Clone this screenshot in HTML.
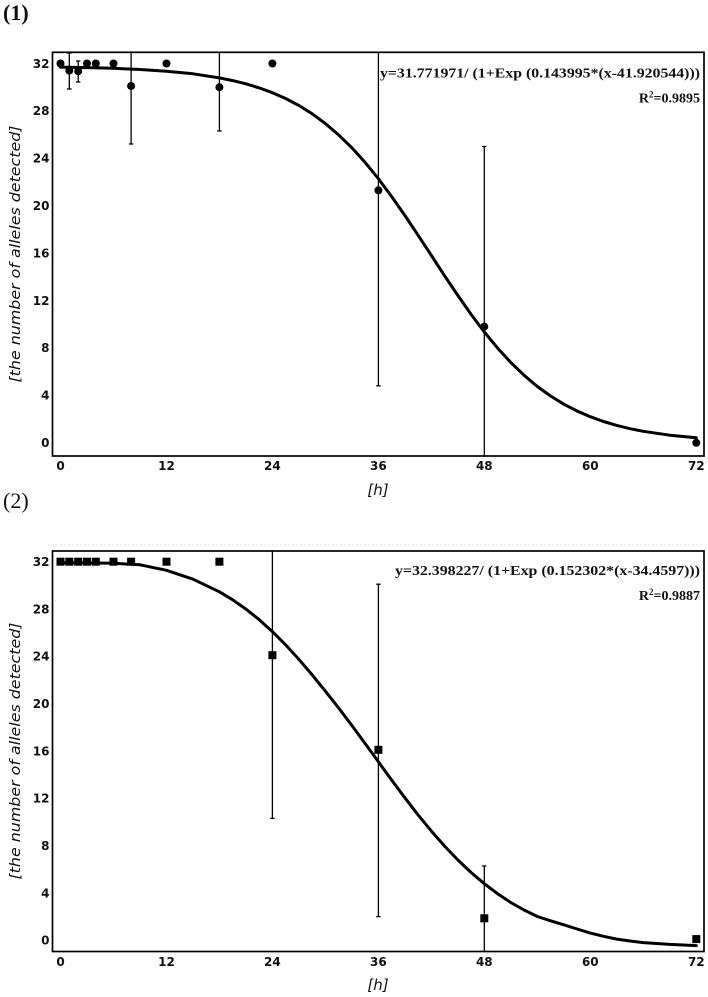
<!DOCTYPE html>
<html>
<head>
<meta charset="utf-8">
<style>
  html, body { margin:0; padding:0; background:#fff; }
  svg { display:block; }
  .tick { font-family: "DejaVu Sans", "Liberation Sans", sans-serif; font-size:12px; font-weight:bold; fill:#111; }
  .ttl { font-family: "DejaVu Sans", "Liberation Sans", sans-serif; font-style:italic; fill:#111; }
  .eq { font-family: "Liberation Serif", serif; font-weight:bold; font-size:14px; fill:#111; }
  .lab { font-family: "Liberation Serif", serif; fill:#111; }
</style>
</head>
<body>
<svg width="708" height="997" viewBox="0 0 708 997" xmlns="http://www.w3.org/2000/svg">
  <rect width="708" height="997" fill="#fff"/>

  <!-- ================= CHART 1 ================= -->
  <text class="lab" x="3" y="20" font-size="22" font-weight="bold">(1)</text>

  <rect x="52.5" y="52.3" width="651.5" height="403.7" fill="none" stroke="#000" stroke-width="1.7"/>

  <g class="tick" text-anchor="end">
    <text x="49.5" y="67.8">32</text>
    <text x="49.5" y="115.2">28</text>
    <text x="49.5" y="162.6">24</text>
    <text x="49.5" y="210.0">20</text>
    <text x="49.5" y="257.4">16</text>
    <text x="49.5" y="304.8">12</text>
    <text x="49.5" y="352.2">8</text>
    <text x="49.5" y="399.6">4</text>
    <text x="49.5" y="447.0">0</text>
  </g>
  <g class="tick" text-anchor="middle">
    <text x="60.5" y="470">0</text>
    <text x="166.5" y="470">12</text>
    <text x="272.4" y="470">24</text>
    <text x="378.4" y="470">36</text>
    <text x="484.3" y="470">48</text>
    <text x="590.3" y="470">60</text>
    <text x="696.3" y="470">72</text>
  </g>
  <text class="ttl" x="378" y="495" font-size="15" text-anchor="middle">[h]</text>
  <text class="ttl" font-size="14" transform="translate(20,254) rotate(-90)" text-anchor="middle" textLength="257" lengthAdjust="spacingAndGlyphs">[the number of alleles detected]</text>

  <text class="eq" x="380" y="77.5" textLength="320" lengthAdjust="spacingAndGlyphs">y=31.771971/ (1+Exp (0.143995*(x-41.920544)))</text>
  <text class="eq" x="700" y="102.5" text-anchor="end">R<tspan font-size="9" dy="-5">2</tspan><tspan dy="5">=0.9895</tspan></text>

  <g stroke="#000" stroke-width="1.3" fill="none">
    <line x1="69.3" y1="52.3" x2="69.3" y2="89"/>
    <line x1="67" y1="53" x2="71.6" y2="53"/>
    <line x1="67" y1="89" x2="71.6" y2="89"/>
    <line x1="78.2" y1="61" x2="78.2" y2="82"/>
    <line x1="76" y1="61" x2="80.4" y2="61"/>
    <line x1="76" y1="82" x2="80.4" y2="82"/>
    <line x1="131.1" y1="52.3" x2="131.1" y2="144"/>
    <line x1="129" y1="144" x2="133.3" y2="144"/>
    <line x1="219.4" y1="52.3" x2="219.4" y2="131"/>
    <line x1="217.2" y1="131" x2="221.6" y2="131"/>
    <line x1="378.4" y1="52.3" x2="378.4" y2="385.8"/>
    <line x1="376.2" y1="385.8" x2="380.6" y2="385.8"/>
    <line x1="484.3" y1="146.5" x2="484.3" y2="456"/>
    <line x1="482.1" y1="146.5" x2="486.5" y2="146.5"/>
  </g>

  <polyline fill="none" stroke="#000" stroke-width="3" stroke-linejoin="round" stroke-linecap="round"
    points="60.5,67.1 87.0,67.6 113.5,68.3 140.0,69.5 166.5,71.2 193.0,73.8 219.4,77.9 232.7,80.6 245.9,83.8 259.2,87.9 272.4,92.7 285.7,98.5 298.9,105.5 312.2,113.8 325.4,123.6 338.6,134.9 351.9,147.8 365.1,162.4 378.4,178.7 391.6,196.5 404.9,215.5 418.1,235.3 431.4,255.5 444.6,275.8 457.9,295.5 471.1,314.4 484.3,332.0 497.6,348.1 510.8,362.5 524.1,375.3 537.3,386.5 550.6,396.0 563.8,404.2 577.1,411.0 590.3,416.7 603.5,421.5 616.8,425.4 630.0,428.7 643.3,431.3 669.8,435.2 696.3,437.8"/>

  <g fill="#000">
    <circle cx="60.5" cy="63.5" r="4"/>
    <circle cx="69.3" cy="70.6" r="4"/>
    <circle cx="78.2" cy="71.2" r="4"/>
    <circle cx="87.0" cy="63.5" r="4"/>
    <circle cx="95.8" cy="63.5" r="4"/>
    <circle cx="113.5" cy="63.5" r="4"/>
    <circle cx="131.1" cy="86" r="4"/>
    <circle cx="166.5" cy="63.5" r="4"/>
    <circle cx="219.4" cy="87.2" r="4"/>
    <circle cx="272.4" cy="63.5" r="4"/>
    <circle cx="378.4" cy="190.3" r="4"/>
    <circle cx="484.3" cy="326.6" r="4"/>
    <circle cx="696.3" cy="442.8" r="4"/>
  </g>

  <!-- ================= CHART 2 ================= -->
  <text class="lab" x="3" y="508" font-size="22">(2)</text>

  <line x1="48" y1="545" x2="704" y2="545" stroke="#e2e2e2" stroke-width="1" stroke-dasharray="2,2"/>
  <rect x="52.5" y="551" width="651.5" height="400.5" fill="none" stroke="#000" stroke-width="1.7"/>

  <g class="tick" text-anchor="end">
    <text x="49.5" y="566.0">32</text>
    <text x="49.5" y="613.3">28</text>
    <text x="49.5" y="660.6">24</text>
    <text x="49.5" y="708.0">20</text>
    <text x="49.5" y="755.3">16</text>
    <text x="49.5" y="802.6">12</text>
    <text x="49.5" y="850.0">8</text>
    <text x="49.5" y="897.3">4</text>
    <text x="49.5" y="944.6">0</text>
  </g>
  <g class="tick" text-anchor="middle">
    <text x="60.5" y="966">0</text>
    <text x="166.5" y="966">12</text>
    <text x="272.4" y="966">24</text>
    <text x="378.4" y="966">36</text>
    <text x="484.3" y="966">48</text>
    <text x="590.3" y="966">60</text>
    <text x="696.3" y="966">72</text>
  </g>
  <text class="ttl" x="378" y="990" font-size="15" text-anchor="middle">[h]</text>
  <text class="ttl" font-size="14" transform="translate(20,751) rotate(-90)" text-anchor="middle" textLength="257" lengthAdjust="spacingAndGlyphs">[the number of alleles detected]</text>

  <text class="eq" x="395" y="575" textLength="305" lengthAdjust="spacingAndGlyphs">y=32.398227/ (1+Exp (0.152302*(x-34.4597)))</text>
  <text class="eq" x="700" y="600" text-anchor="end">R<tspan font-size="9" dy="-5">2</tspan><tspan dy="5">=0.9887</tspan></text>

  <g stroke="#000" stroke-width="1.3" fill="none">
    <line x1="272.4" y1="551" x2="272.4" y2="818.4"/>
    <line x1="270.2" y1="818.4" x2="274.6" y2="818.4"/>
    <line x1="378.4" y1="584.2" x2="378.4" y2="916.6"/>
    <line x1="376.2" y1="584.2" x2="380.6" y2="584.2"/>
    <line x1="376.2" y1="916.6" x2="380.6" y2="916.6"/>
    <line x1="484.3" y1="866" x2="484.3" y2="951"/>
    <line x1="482.1" y1="866" x2="486.5" y2="866"/>
  </g>

  <polyline fill="none" stroke="#000" stroke-width="3" stroke-linejoin="round" stroke-linecap="round"
    points="60.5,562.9 87.0,562.9 113.5,563.2 140.0,564.8 166.5,570.3 193.0,579.2 219.4,591.8 232.7,599.8 245.9,609.1 259.2,619.7 272.4,631.6 285.7,644.9 298.9,659.4 312.2,674.9 325.4,691.2 338.6,707.9 351.9,725.5 365.1,743.5 378.4,761.8 391.6,780.0 404.9,797.8 418.1,814.9 431.4,831.1 444.6,846.1 457.9,860.0 471.1,872.5 484.3,883.7 497.6,893.7 510.8,902.5 524.1,910.0 537.3,916.5 550.6,920.8 563.8,924.8 577.1,929.0 590.3,933.1 603.5,936.3 616.8,939.1 630.0,941.0 643.3,942.6 669.8,944.4 696.3,945.6"/>

  <g fill="#000">
    <rect x="56.5" y="557.7" width="8" height="8"/>
    <rect x="65.3" y="557.7" width="8" height="8"/>
    <rect x="74.2" y="557.7" width="8" height="8"/>
    <rect x="83.0" y="557.7" width="8" height="8"/>
    <rect x="91.8" y="557.7" width="8" height="8"/>
    <rect x="109.5" y="557.7" width="8" height="8"/>
    <rect x="127.1" y="557.7" width="8" height="8"/>
    <rect x="162.5" y="557.7" width="8" height="8"/>
    <rect x="215.4" y="557.7" width="8" height="8"/>
    <rect x="268.4" y="651.2" width="8" height="8"/>
    <rect x="374.4" y="745.8" width="8" height="8"/>
    <rect x="480.3" y="914.3" width="8" height="8"/>
    <rect x="692.3" y="935.1" width="8" height="8"/>
  </g>
</svg>
</body>
</html>
